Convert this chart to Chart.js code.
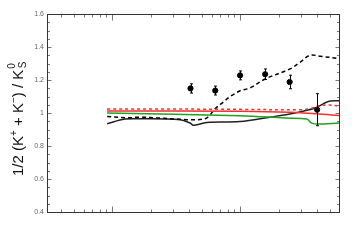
<!DOCTYPE html>
<html>
<head>
<meta charset="utf-8">
<script src="https://cdn.jsdelivr.net/npm/chart.js@4"></script>
<style>
  html, body { margin: 0; padding: 0; background: #fff; }
  #wrap { width: 357px; height: 244px; }
</style>
</head>
<body>
<div id="wrap"><canvas id="ratioChart" width="357" height="244"></canvas></div>
<script>
// measured points with stat. errors
const pointX = [0.41, 0.64, 1.0, 1.57, 2.44, 4.0];
const pointY = [1.149, 1.136, 1.228, 1.235, 1.188, 1.02];
const pointErr = [0.028, 0.027, 0.027, 0.032, 0.041, 0.097];

// model curves
const dashX = [0.0914, 0.133, 0.165, 0.237, 0.34, 0.407, 0.533, 0.583, 0.638, 0.741, 0.835, 0.88, 1.0, 1.2, 1.567, 2.456, 2.94, 3.52, 4.22, 5.93];
const dashY = [0.979, 0.971, 0.975, 0.969, 0.962, 0.959, 0.965, 0.989, 1.025, 1.067, 1.1, 1.11, 1.135, 1.152, 1.206, 1.267, 1.307, 1.35, 1.344, 1.33];

const solidX = [0.0914, 0.126, 0.165, 0.34, 0.407, 0.432, 0.487, 0.549, 1.0, 1.664, 2.69, 3.85, 4.89, 5.93];
const solidY = [0.935, 0.963, 0.965, 0.959, 0.939, 0.926, 0.933, 0.943, 0.948, 0.973, 1.0, 1.03, 1.07, 1.074];

const redDashX = [0.0914, 0.3, 1.0, 2.94, 3.52, 4.22, 4.87, 5.93];
const redDashY = [1.024, 1.024, 1.022, 1.02, 1.026, 1.045, 1.048, 1.044];

const redX = [0.0914, 1.0, 2.46, 5.93];
const redY = [1.012, 1.011, 1.004, 0.985];

const greenX = [0.0914, 1.0, 2.25, 3.32, 3.63, 4.09, 5.93];
const greenY = [1.0, 0.984, 0.969, 0.963, 0.939, 0.933, 0.939];

// axes
const xMin = 0.031, xMax = 5.93;
const xMajorTicks = [0.1, 1];
const xMinorTicks = [0.04, 0.05, 0.06, 0.07, 0.08, 0.09, 0.2, 0.3, 0.4, 0.5, 0.6, 0.7, 0.8, 0.9, 2, 3, 4, 5];
const yTickValues = [0.4, 0.6, 0.8, 1.0, 1.2, 1.4, 1.6];
const yTickLabels = ['0.4', '0.6', '0.8', '1', '1.2', '1.4', '1.6'];
const yMinorTicks = [0.45, 0.5, 0.55, 0.65, 0.7, 0.75, 0.85, 0.9, 0.95, 1.05, 1.1, 1.15, 1.25, 1.3, 1.35, 1.45, 1.5, 1.55];

function zipXY(xs, ys) {
  return xs.map((x, i) => ({x: x, y: ys[i]}));
}

function curve(xs, ys, color, dash) {
  return {
    type: 'line',
    data: zipXY(xs, ys),
    borderColor: color,
    borderWidth: 1.5,
    borderDash: dash || [],
    pointRadius: 0,
    fill: false,
    tension: 0.35
  };
}

// error bars, frame and inward ticks
const decorPlugin = {
  id: 'decorPlugin',
  afterDatasetsDraw(chart) {
    const ctx = chart.ctx;
    const xs = chart.scales.x, ys = chart.scales.y;
    ctx.save();
    ctx.strokeStyle = '#000';
    ctx.lineWidth = 1;
    pointX.forEach((x, i) => {
      const px = Math.round(xs.getPixelForValue(x)) + 0.5;
      const top = ys.getPixelForValue(pointY[i] + pointErr[i]);
      const bot = ys.getPixelForValue(pointY[i] - pointErr[i]);
      ctx.beginPath();
      ctx.moveTo(px, top); ctx.lineTo(px, bot);
      ctx.moveTo(px - 1.5, top); ctx.lineTo(px + 1.5, top);
      ctx.moveTo(px - 1.5, bot); ctx.lineTo(px + 1.5, bot);
      ctx.stroke();
    });
    ctx.restore();
  },
  afterDraw(chart) {
    const ctx = chart.ctx;
    const a = chart.chartArea;
    const xs = chart.scales.x, ys = chart.scales.y;
    const L = Math.round(a.left) + 0.5, R = Math.round(a.right) + 0.5;
    const T = Math.round(a.top) + 0.5, B = Math.round(a.bottom) + 0.5;
    ctx.save();
    ctx.lineWidth = 1;
    ctx.strokeStyle = '#777';
    ctx.beginPath();
    const xt = (v, len) => {
      const p = Math.round(xs.getPixelForValue(v)) + 0.5;
      ctx.moveTo(p, B); ctx.lineTo(p, B - len);
      ctx.moveTo(p, T); ctx.lineTo(p, T + len);
    };
    const yt = (v, len) => {
      const p = Math.round(ys.getPixelForValue(v)) + 0.5;
      ctx.moveTo(L, p); ctx.lineTo(L + len, p);
      ctx.moveTo(R, p); ctx.lineTo(R - len, p);
    };
    xMajorTicks.forEach(v => xt(v, 6));
    xMinorTicks.forEach(v => xt(v, 3));
    yTickValues.forEach(v => yt(v, 4));
    yMinorTicks.forEach(v => yt(v, 2.5));
    ctx.stroke();
    ctx.strokeStyle = '#333';
    ctx.strokeRect(L, T, R - L, B - T);

    // y axis title with super/subscripts
    const big = '15px "Liberation Sans", Arial, sans-serif';
    const small = '10px "Liberation Sans", Arial, sans-serif';
    const parts = [
      ['1/2 (K', big, 0], ['+', small, -6], [' + K', big, 0], ['\u2212', small, -6],
      [') / K', big, 0]
    ];
    ctx.fillStyle = '#111';
    ctx.textBaseline = 'alphabetic';
    let w = 0;
    parts.forEach(p => { ctx.font = p[1]; w += ctx.measureText(p[0]).width; });
    ctx.font = small;
    const tail = Math.max(ctx.measureText('0').width, ctx.measureText('S').width);
    w += tail + 1;
    ctx.translate(22.5, 119);
    ctx.rotate(-Math.PI / 2);
    let x = -w / 2;
    parts.forEach(p => {
      ctx.font = p[1];
      ctx.fillText(p[0], x, p[2]);
      x += ctx.measureText(p[0]).width;
    });
    ctx.font = small;
    ctx.fillText('0', x + 1, -8);
    ctx.fillText('S', x + 1.5, 3);
    ctx.restore();
  }
};

const datasets = [
  curve(redDashX, redDashY, '#f03030', [3, 3]),
  curve(redX, redY, '#f03030'),
  curve(greenX, greenY, '#22a022'),
  curve(dashX, dashY, '#000', [4, 3]),
  curve(solidX, solidY, '#222'),
  {
    type: 'scatter',
    data: zipXY(pointX, pointY),
    backgroundColor: '#000',
    borderColor: '#000',
    pointRadius: 2.6,
    pointHoverRadius: 2.6,
    showLine: false
  }
];

new Chart(document.getElementById('ratioChart'), {
  type: 'line',
  data: { datasets: datasets },
  options: {
    responsive: false,
    animation: false,
    events: [],
    layout: { padding: { top: 14, right: 18, left: 0, bottom: 0 } },
    plugins: { legend: { display: false }, tooltip: { enabled: false } },
    scales: {
      x: {
        type: 'logarithmic',
        min: xMin,
        max: xMax,
        grid: { display: false },
        border: { display: false },
        ticks: { display: false },
        afterFit(scale) { scale.height = 32; }
      },
      y: {
        min: 0.4,
        max: 1.6,
        grid: { display: false, drawTicks: false },
        border: { display: false },
        afterBuildTicks(scale) { scale.ticks = yTickValues.map(v => ({value: v})); },
        afterFit(scale) { scale.width = 47; },
        ticks: {
          padding: 3,
          color: '#666',
          font: { family: '"Liberation Sans", Arial, sans-serif', size: 7 },
          callback: (v) => {
            const i = yTickValues.findIndex(t => Math.abs(t - v) < 1e-6);
            return i >= 0 ? yTickLabels[i] : '';
          }
        }
      }
    }
  },
  plugins: [decorPlugin]
});
</script>
</body>
</html>
